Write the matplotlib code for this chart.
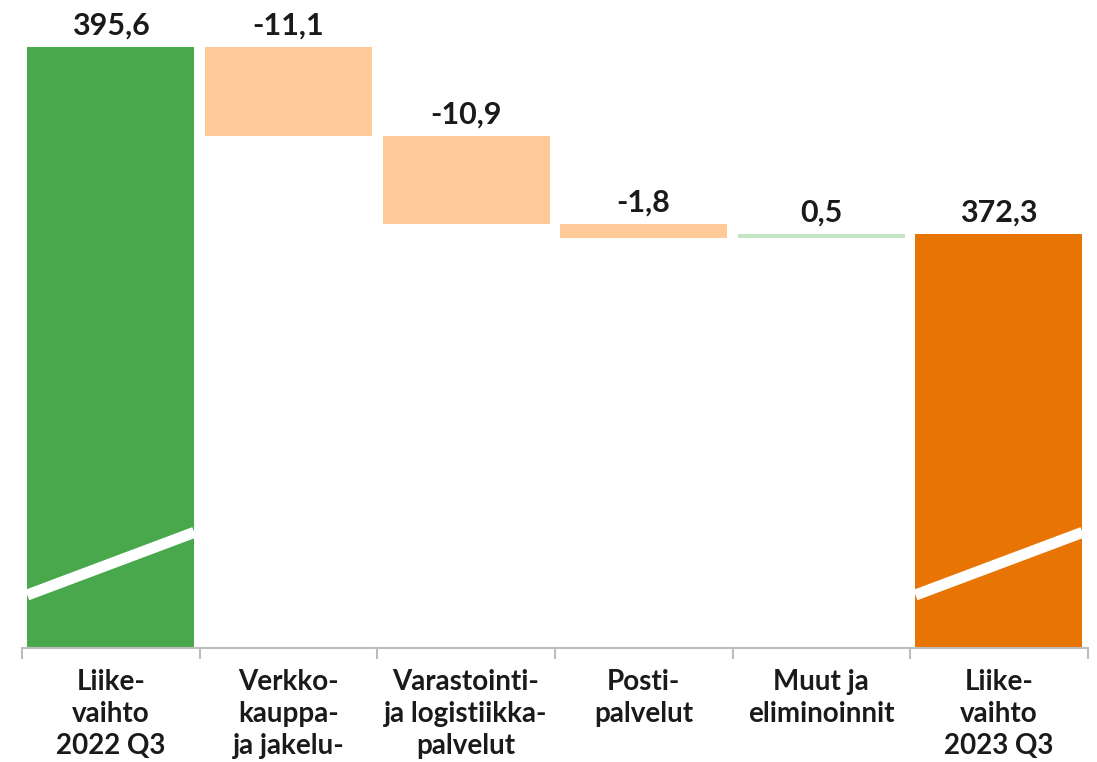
#!/usr/bin/env python3
# -*- coding: utf-8 -*-
#
# Waterfall chart: liikevaihto 2022 Q3 -> 2023 Q3.

import numpy as np
import matplotlib.pyplot as plt

plt.rcParams['font.family'] = ['Lato', 'DejaVu Sans']

categories = ["Liike-\nvaihto\n2022 Q3", "Verkko-\nkauppa-\nja jakelu-",
              "Varastointi-\nja logistiikka-\npalvelut", "Posti-\npalvelut",
              "Muut ja\neliminoinnit", "Liike-\nvaihto\n2023 Q3"]
start_value = 395.6
changes = [-11.1, -10.9, -1.8, 0.5]
end_value = 372.3
labels = ["395,6", "-11,1", "-10,9", "-1,8", "0,5", "372,3"]


def main():
    fig = plt.figure(figsize=(10.97, 7.62), dpi=100)
    ax = fig.add_axes([0.020, 1 - 648 / 762, 0.9716, 648 / 762])

    x = np.arange(len(categories))
    width = 0.94
    y_min = 320.8

    # Bar bottoms and heights for the waterfall.
    levels = start_value + np.cumsum([0] + changes)
    bottoms = [y_min]
    heights = [start_value - y_min]
    colors = ['#4aa84c']
    for i, c in enumerate(changes):
        bottoms.append(min(levels[i], levels[i + 1]))
        heights.append(abs(c))
        colors.append('#ffca98' if c < 0 else '#c4e5c1')
    bottoms.append(y_min)
    heights.append(end_value - y_min)
    colors.append('#e87503')

    ax.bar(x, heights, width=width, bottom=bottoms, color=colors)

    # Value labels above each bar.
    for xi, b, h, lab in zip(x, bottoms, heights, labels):
        ax.text(xi, b + h + 1.6, lab, ha='center', va='baseline',
                fontsize=22, fontweight='bold', color='#1a1a1a')

    # Axis break marks on the total bars.
    for xi in (x[0], x[-1]):
        ax.plot([xi - width / 2, xi + width / 2], [327.4, 335.2],
                color='white', lw=8, solid_capstyle='butt', zorder=3)

    ax.set_xlim(-0.5, len(categories) - 0.5)
    ax.set_ylim(y_min, y_min + 648 / 8.03)

    for s in ['top', 'right', 'left']:
        ax.spines[s].set_visible(False)
    ax.spines['bottom'].set_color('#bdbdbd')
    ax.spines['bottom'].set_linewidth(1.5)
    ax.set_yticks([])

    ax.set_xticks(x)
    ax.set_xticklabels(categories, fontsize=20, fontweight='bold',
                       color='#1a1a1a', linespacing=1.29)
    ax.tick_params(axis='x', which='major', length=0, pad=15)
    ax.set_xticks(np.arange(len(categories) + 1) - 0.5, minor=True)
    ax.tick_params(axis='x', which='minor', length=8, color='#bdbdbd',
                   width=1.5)

    fig.savefig('out.png', dpi=100)


if __name__ == '__main__':
    main()
